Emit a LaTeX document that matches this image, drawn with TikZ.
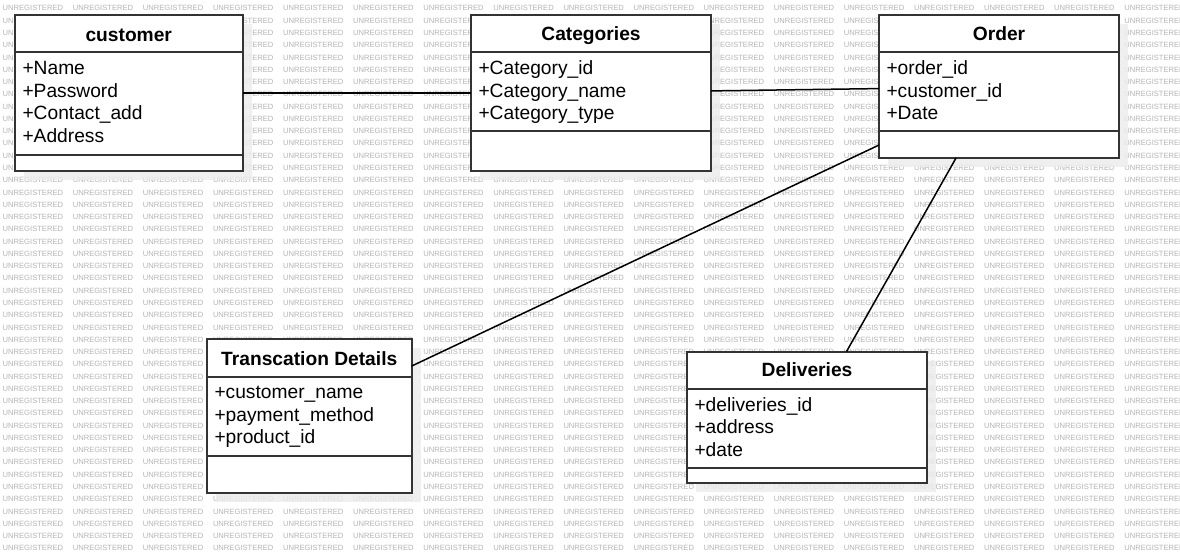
\documentclass[tikz,border=0pt]{standalone}
\usepackage{fontspec}
\setmainfont{Liberation Sans}
\definecolor{cffffff}{RGB}{255,255,255}
\definecolor{c333333}{RGB}{51,51,51}
\definecolor{cb4b4b4}{RGB}{180,180,180}
\definecolor{cececec}{RGB}{236,236,236}

\begin{document}
\begin{tikzpicture}[y=1pt, x=1pt, yscale=-1, inner sep=0pt, outer sep=0pt,
  umlbox/.style={draw=c333333, fill=cffffff, line width=2pt, rectangle},
  boxshadow/.style={fill=cececec, fill opacity=0.8},
  sepline/.style={draw=c333333, line width=2pt},
  title/.style={anchor=base, font=\fontsize{19.2}{23}\selectfont\bfseries},
  attr/.style={anchor=base west, font=\fontsize{19.2}{23}\selectfont},
  wmark/.style={anchor=base west, text=cb4b4b4, font=\fontsize{7.6}{9}\selectfont},
  link/.style={draw=black, line width=1.5pt}]
  \useasboundingbox (0,0) rectangle (1180,553);
  \path[fill=cffffff] (0,0) rectangle (1180,553);
  % watermark
  \begin{scope}
    \clip (0,0) rectangle (1180,553);
    \foreach \row in {0,...,44}
      \foreach \col in {0,...,16}
        \path (2.7+70.1*\col, 11+12.27*\row) node[wmark] (wm-\row-\col) {UNREGISTERED};
  \end{scope}
  % shadows
  \path[boxshadow] (24,24) rectangle (251.5,180);
  \path[boxshadow] (480,24) rectangle (720,180);
  \path[boxshadow] (888,24) rectangle (1128,167);
  \path[boxshadow] (216,348) rectangle (420.5,502);
  \path[boxshadow] (696,360.5) rectangle (936,492);
  % classes
  \node[umlbox, minimum width=227.5pt, minimum height=156pt] (customer) at (128.75,93) {};
  \node[umlbox, minimum width=240pt, minimum height=156pt] (categories) at (591,93) {};
  \node[umlbox, minimum width=240pt, minimum height=143pt] (order) at (999,86.5) {};
  \node[umlbox, minimum width=204.5pt, minimum height=154pt] (trans) at (309.25,416) {};
  \node[umlbox, minimum width=240pt, minimum height=131.5pt] (deliveries) at (807,417.25) {};
  \path[sepline] (15,52) -- (242.5,52);
  \path[sepline] (15,155) -- (242.5,155);
  \path[sepline] (471,52) -- (711,52);
  \path[sepline] (471,131.5) -- (711,131.5);
  \path[sepline] (879,52) -- (1119,52);
  \path[sepline] (879,131.5) -- (1119,131.5);
  \path[sepline] (207,377) -- (411.5,377);
  \path[sepline] (207,456) -- (411.5,456);
  \path[sepline] (687,388.5) -- (927,388.5);
  \path[sepline] (687,467.5) -- (927,467.5);
  % associations
  \path[link] (customer.east) -- (categories.west);
  \path[link] (categories.1) -- (order.181);
  \path[link] (order.206) -- (trans.26);
  \path[link] (order.239) -- (deliveries.59);
  % texts
  \path (128.75,41.5) node[title] (text-customer) {customer};
  \path (22.5,75) node[attr] (text-cu1) {+Name};
  \path (22.5,97.5) node[attr] (text-cu2) {+Password};
  \path (22.5,120) node[attr] (text-cu3) {+Contact\_add};
  \path (22.5,142.5) node[attr] (text-cu4) {+Address};
  \path (591,41) node[title] (text-categories) {Categories};
  \path (478.5,75) node[attr] (text-ca1) {+Category\_id};
  \path (478.5,97.5) node[attr] (text-ca2) {+Category\_name};
  \path (478.5,120) node[attr] (text-ca3) {+Category\_type};
  \path (999,41) node[title] (text-order) {Order};
  \path (886.5,75) node[attr] (text-or1) {+order\_id};
  \path (886.5,97.5) node[attr] (text-or2) {+customer\_id};
  \path (886.5,120) node[attr] (text-or3) {+Date};
  \path (309.25,365.5) node[title] (text-trans) {Transcation Details};
  \path (214.5,398.5) node[attr] (text-tr1) {+customer\_name};
  \path (214.5,421) node[attr] (text-tr2) {+payment\_method};
  \path (214.5,443.5) node[attr] (text-tr3) {+product\_id};
  \path (807,376.5) node[title] (text-deliveries) {Deliveries};
  \path (694.5,411) node[attr] (text-de1) {+deliveries\_id};
  \path (694.5,433.5) node[attr] (text-de2) {+address};
  \path (694.5,456) node[attr] (text-de3) {+date};
\end{tikzpicture}
\end{document}
